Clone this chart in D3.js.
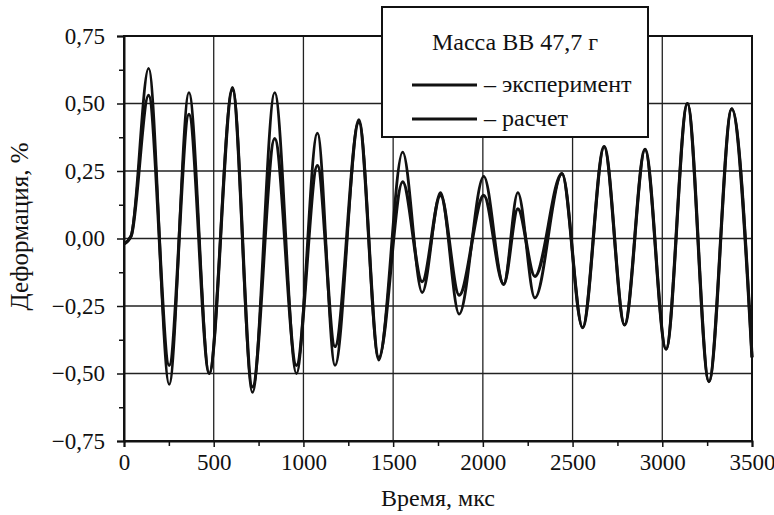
<!DOCTYPE html>
<html>
<head>
<meta charset="utf-8">
<script src="https://cdn.jsdelivr.net/npm/d3@7"></script>
<style>
  body { margin: 0; background: #fff; }
  svg text { font-family: "Times New Roman", "Liberation Serif", Tinos, "DejaVu Serif", serif; }
</style>
</head>
<body>
<div id="chart"></div>
<script>
// time points (mks) at extrema, shared by both curves
const times = [0, 40, 137, 252, 362, 475, 605, 716, 840, 961, 1078, 1176, 1309, 1420,
  1553, 1662, 1764, 1868, 2005, 2116, 2195, 2290, 2441, 2556, 2676, 2790, 2904, 3021,
  3140, 3260, 3387, 3500];
// experiment
const experiment = [-0.02, 0.01, 0.63, -0.54, 0.54, -0.50, 0.56, -0.57, 0.54, -0.50, 0.39, -0.47,
  0.44, -0.45, 0.32, -0.20, 0.17, -0.28, 0.23, -0.17, 0.17, -0.22, 0.24, -0.33, 0.34, -0.32,
  0.33, -0.41, 0.50, -0.53, 0.48, -0.44];
// calculation
const calc = [-0.02, 0.01, 0.53, -0.47, 0.46, -0.50, 0.55, -0.55, 0.37, -0.47, 0.27, -0.40,
  0.43, -0.44, 0.21, -0.16, 0.16, -0.21, 0.16, -0.17, 0.11, -0.14, 0.24, -0.33, 0.34, -0.32,
  0.33, -0.41, 0.50, -0.53, 0.48, -0.44];

const xTicks = d3.range(0, 3501, 500);
const yTicks = [-0.75, -0.5, -0.25, 0, 0.25, 0.5, 0.75];

const title = "Масса ВВ 47,7 г";
const seriesNames = ["– эксперимент", "– расчет"];

const width = 774, height = 515;
const margin = { top: 36, right: 22, bottom: 74, left: 124 };

const locale = d3.formatLocale({ decimal: ",", thousands: "", grouping: [3], currency: ["", ""], minus: "\u2212" });
const fy = locale.format(".2f");

const svg = d3.select("#chart").append("svg")
  .attr("width", width)
  .attr("height", height);

const x = d3.scaleLinear().domain([0, 3500]).range([margin.left, width - margin.right]);
const y = d3.scaleLinear().domain([-0.75, 0.75]).range([height - margin.bottom, margin.top]);

// grid
svg.append("g")
  .selectAll("line")
  .data(yTicks)
  .join("line")
  .attr("x1", x(0)).attr("x2", x(3500))
  .attr("y1", d => y(d)).attr("y2", d => y(d))
  .attr("stroke", "#222").attr("stroke-width", 1.3);

svg.append("g")
  .selectAll("line")
  .data(xTicks)
  .join("line")
  .attr("y1", y(-0.75)).attr("y2", y(0.75))
  .attr("x1", d => x(d)).attr("x2", d => x(d))
  .attr("stroke", "#222").attr("stroke-width", 1.3);

// axes
svg.append("g")
  .attr("transform", `translate(0,${y(-0.75)})`)
  .call(d3.axisBottom(x).tickValues(xTicks).tickFormat(d3.format("d")).tickSize(6).tickPadding(7));
svg.append("g")
  .attr("transform", `translate(0,${y(-0.75)})`)
  .call(d3.axisBottom(x).tickValues(d3.range(250, 3500, 500)).tickFormat("").tickSize(5))
  .call(g => g.select(".domain").remove());

svg.append("g")
  .attr("transform", `translate(${x(0)},0)`)
  .call(d3.axisLeft(y).tickValues(yTicks).tickFormat(fy).tickSize(7).tickPadding(12));
svg.append("g")
  .attr("transform", `translate(${x(0)},0)`)
  .call(d3.axisLeft(y).tickValues(d3.range(-0.625, 0.7, 0.25)).tickFormat("").tickSize(5))
  .call(g => g.select(".domain").remove());

svg.selectAll(".domain").attr("stroke", "#111").attr("stroke-width", 2);
svg.selectAll(".tick line").attr("stroke", "#111").attr("stroke-width", 1.5);
svg.selectAll(".tick text")
  .attr("font-size", 23)
  .attr("fill", "#111");

// frame
svg.append("rect")
  .attr("x", x(0)).attr("y", y(0.75))
  .attr("width", x(3500) - x(0)).attr("height", y(-0.75) - y(0.75))
  .attr("fill", "none").attr("stroke", "#111").attr("stroke-width", 2);

// lines
const line = d3.line()
  .x((d, i) => x(times[i]))
  .y(d => y(d))
  .curve(d3.curveMonotoneX);

svg.append("path")
  .datum(calc)
  .attr("d", line)
  .attr("fill", "none").attr("stroke", "#111").attr("stroke-width", 3.2);
svg.append("path")
  .datum(experiment)
  .attr("d", line)
  .attr("fill", "none").attr("stroke", "#111").attr("stroke-width", 2.8);

// axis titles
svg.append("text")
  .attr("x", (x(0) + x(3500)) / 2)
  .attr("y", 506)
  .attr("text-anchor", "middle")
  .attr("font-size", 24)
  .attr("fill", "#111")
  .text("Время, мкс");

svg.append("text")
  .attr("transform", `translate(28,${y(0) - 12}) rotate(-90)`)
  .attr("text-anchor", "middle")
  .attr("font-size", 25)
  .attr("fill", "#111")
  .text("Деформация, %");

// legend
const lg = svg.append("g");
lg.append("rect")
  .attr("x", 382).attr("y", 7)
  .attr("width", 266).attr("height", 130)
  .attr("fill", "#fff").attr("stroke", "#111").attr("stroke-width", 2);
lg.append("text")
  .attr("x", 515).attr("y", 50)
  .attr("text-anchor", "middle")
  .attr("font-size", 24)
  .attr("fill", "#111")
  .text(title);
seriesNames.forEach((name, i) => {
  const ly = 85 + i * 34;
  lg.append("line")
    .attr("x1", 412).attr("x2", 477)
    .attr("y1", ly).attr("y2", ly)
    .attr("stroke", "#111").attr("stroke-width", i === 0 ? 2.8 : 3.2);
  lg.append("text")
    .attr("x", 484).attr("y", ly + 7)
    .attr("font-size", 24)
    .attr("fill", "#111")
    .text(name);
});
</script>
</body>
</html>
